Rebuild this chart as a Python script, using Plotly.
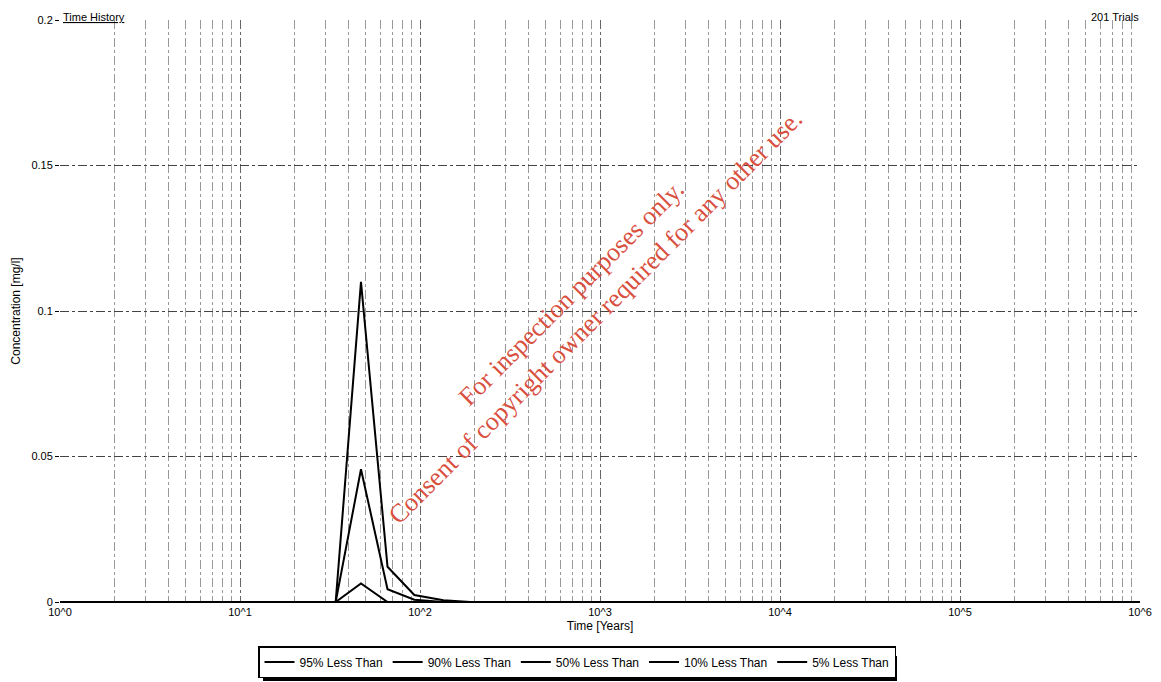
import plotly.graph_objects as go

# Data
times = [1, 34, 47, 66, 93, 135, 190, 1000000]
series_names = ["95% Less Than", "90% Less Than", "50% Less Than", "10% Less Than", "5% Less Than"]
p95 = [0, 0, 0.110, 0.0121, 0.0024, 0.0006, 0, 0]
p90 = [0, 0, 0.0456, 0.0044, 0.0008, 0, 0, 0]
p50 = [0, 0, 0.0064, 0, 0, 0, 0, 0]
p10 = [0, 0, 0, 0, 0, 0, 0, 0]
p05 = [0, 0, 0, 0, 0, 0, 0, 0]
series_values = [p95, p90, p50, p10, p05]

x_tickvals = [1, 10, 100, 1000, 10000, 100000, 1000000]
x_ticktext = ["10^0", "10^1", "10^2", "10^3", "10^4", "10^5", "10^6"]
y_tickvals = [0, 0.05, 0.1, 0.15, 0.2]
y_ticktext = ["0", "0.05", "0.1", "0.15", "0.2"]

FONT = "Liberation Sans, Arial, sans-serif"

# page body has an 8px margin, so the figure is sized to the visible area
W, H = 1153, 674
L, R, T, B = 52, 21, 12, 80
PW, PH = W - L - R, H - T - B

fig = go.Figure()
for name, vals in zip(series_names, series_values):
    fig.add_trace(go.Scatter(
        x=times, y=vals, mode="lines", name=name,
        line=dict(color="black", width=2),
    ))

LEG_BOTTOM = 670  # figure px
fig.update_layout(
    width=W, height=H,
    margin=dict(l=L, r=R, t=T, b=B, autoexpand=False),
    paper_bgcolor="white", plot_bgcolor="white",
    font=dict(family=FONT, size=11, color="black"),
    showlegend=True,
    legend=dict(
        orientation="h", x=(569 - L) / PW, xanchor="center",
        y=(T + PH - LEG_BOTTOM) / PH, yanchor="bottom",
        bordercolor="black", borderwidth=1.5, bgcolor="white",
        font=dict(family=FONT, size=12, color="black"),
        itemwidth=30, tracegroupgap=0,
    ),
)

# drop shadow of the legend box (legend is drawn over shapes)
sx0, sx1, sy0, sy1 = 255, 889, LEG_BOTTOM - 22, LEG_BOTTOM + 3
fig.add_shape(
    type="rect", xref="paper", yref="paper",
    x0=(sx0 - L) / PW, x1=(sx1 - L) / PW,
    y0=(T + PH - sy1) / PH, y1=(T + PH - sy0) / PH,
    fillcolor="black", line=dict(width=0), layer="above",
)

fig.update_xaxes(
    type="log", range=[0, 6], automargin=False,
    tickvals=x_tickvals, ticktext=x_ticktext,
    tickfont=dict(size=11),
    showgrid=True, gridcolor="#666666", griddash="dashdot", gridwidth=1,
    minor=dict(showgrid=True, gridcolor="#999999", griddash="dashdot", gridwidth=1,
               ticks="", dtick="D1"),
    showline=True, linecolor="black", linewidth=1,
    ticks="", zeroline=False,
    title=dict(text="Time [Years]", font=dict(size=12), standoff=4),
)
fig.update_yaxes(
    range=[0, 0.2], automargin=False,
    tickvals=y_tickvals, ticktext=y_ticktext,
    tickfont=dict(size=11),
    showgrid=True, gridcolor="#444444", griddash="dashdot", gridwidth=1,
    ticks="outside", ticklen=4, tickcolor="black",
    showline=False, zeroline=False,
    title=dict(text="Concentration [mg/l]", font=dict(size=12), standoff=8),
)

fig.add_annotation(
    text="<u>Time History</u>", xref="paper", yref="paper",
    x=0.002, y=1.0, xanchor="left", yanchor="bottom", yshift=-4, borderpad=0,
    showarrow=False,
    font=dict(family=FONT, size=11, color="black"),
)
fig.add_annotation(
    text="201 Trials", xref="paper", yref="paper",
    x=1.0, y=1.0, xanchor="right", yanchor="top", yshift=10, borderpad=0,
    showarrow=False,
    font=dict(family=FONT, size=11, color="black"),
)
fig.add_annotation(
    text="For inspection purposes only.<br>Consent of copyright owner required for any other use.",
    xref="paper", yref="paper",
    x=(575 - L) / PW, y=(594 - 297) / PH, xanchor="center", yanchor="middle",
    showarrow=False, textangle=-45,
    font=dict(family="Liberation Serif, Times New Roman, serif", size=26, color="#d9503f"),
)

fig.write_html("out.html")
